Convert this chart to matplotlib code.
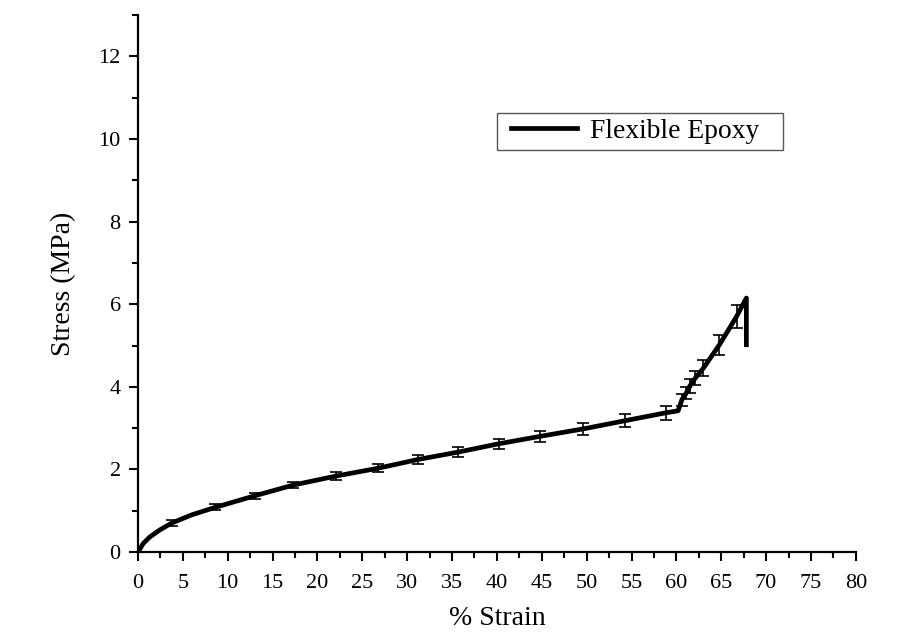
import numpy as np
import matplotlib
matplotlib.use('Agg')
import matplotlib.pyplot as plt
from matplotlib.ticker import MultipleLocator
from matplotlib.patches import Rectangle

# stress-strain curve, flexible epoxy (averaged)
strain = [0, 0.6, 1.3, 2.4, 3.75, 6.0, 8.6, 13.0, 17.3, 22.1, 26.8, 31.2, 35.7, 40.2,
          44.8, 49.6, 54.3, 58.8, 60.2, 60.6, 61.1, 61.5, 62.1, 63.0, 64.8, 66.7,
          67.8, 67.8]
stress = [0, 0.21, 0.36, 0.53, 0.70, 0.90, 1.08, 1.36, 1.62, 1.84, 2.03, 2.24, 2.42, 2.62,
          2.80, 2.98, 3.18, 3.37, 3.42, 3.68, 3.85, 4.02, 4.21, 4.45, 5.02, 5.70,
          6.15, 5.02]

# sampled points with standard deviation
err_strain = [3.75, 8.6, 13.0, 17.3, 22.1, 26.8, 31.2, 35.7, 40.2, 44.8, 49.6,
              54.3, 58.8, 60.6, 61.1, 61.5, 62.1, 63.0, 64.8, 66.7]
err_stress = [0.70, 1.08, 1.36, 1.62, 1.84, 2.03, 2.24, 2.42, 2.62, 2.80, 2.98,
              3.18, 3.37, 3.68, 3.85, 4.02, 4.21, 4.45, 5.02, 5.70]
err_sd = [0.07, 0.07, 0.08, 0.08, 0.09, 0.10, 0.11, 0.12, 0.12, 0.13, 0.14,
          0.15, 0.17, 0.15, 0.15, 0.16, 0.17, 0.20, 0.24, 0.28]

plt.rcParams['font.family'] = 'Liberation Serif'

fig = plt.figure(figsize=(8.99, 6.33), dpi=100)
ax = fig.add_axes([0.1535, 0.128, 0.7985, 0.848])

ax.errorbar(err_strain, err_stress, yerr=err_sd, fmt='none', ecolor='black',
            elinewidth=1.2, capsize=4.5, capthick=1.2, zorder=2)
ax.plot(strain, stress, color='black', lw=3.4, label='Flexible Epoxy', zorder=3,
        solid_joinstyle='round')

ax.set_xlim(0, 80)
ax.set_ylim(0, 13)
ax.xaxis.set_major_locator(MultipleLocator(5))
ax.xaxis.set_minor_locator(MultipleLocator(2.5))
ax.yaxis.set_major_locator(MultipleLocator(2))
ax.yaxis.set_minor_locator(MultipleLocator(1))

for s in ['top', 'right']:
    ax.spines[s].set_visible(False)
for s in ['left', 'bottom']:
    ax.spines[s].set_linewidth(1.6)

ax.tick_params(which='major', direction='out', length=6.5, width=1.5, labelsize=16, pad=6)
ax.tick_params(axis='x', which='major', pad=9)
ax.tick_params(which='minor', direction='out', length=4, width=1.5)

ax.set_xlabel('% Strain', fontsize=20, labelpad=10)
ax.set_ylabel('Stress (MPa)', fontsize=20, labelpad=16)

# legend entry without its own frame, boxed separately
leg = ax.legend(loc='center left', bbox_to_anchor=(0.516, 0.7835), fontsize=19.8,
                frameon=False, handlelength=2.4, borderpad=0.1,
                handletextpad=0.45, borderaxespad=0)
ax.add_patch(Rectangle((0.5, 0.749), 0.398, 0.069, transform=ax.transAxes,
                       fill=False, edgecolor='#555555', lw=1.0, clip_on=False))

fig.savefig('out.png', dpi=100)
